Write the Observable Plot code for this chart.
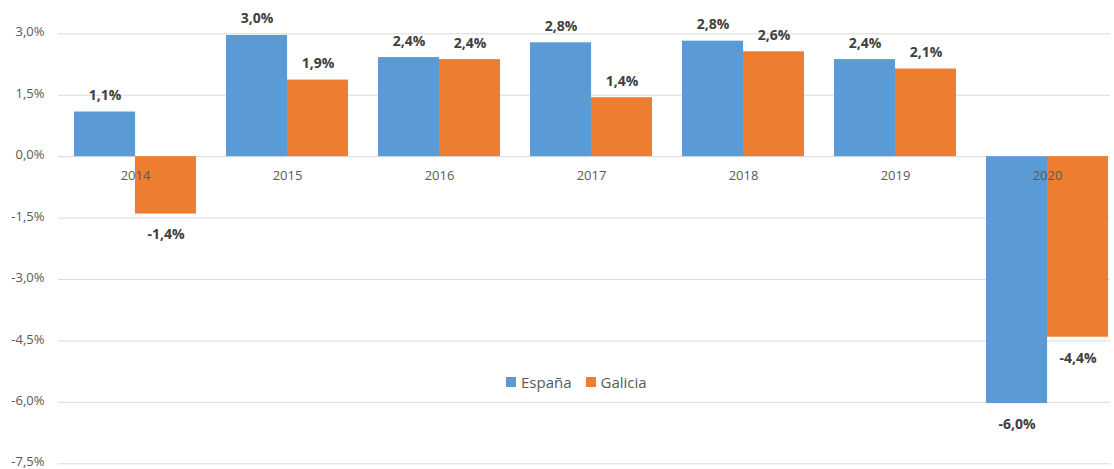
<!DOCTYPE html>
<html><head><meta charset="utf-8">
<script src="https://cdn.jsdelivr.net/npm/d3@7"></script>
<script src="https://cdn.jsdelivr.net/npm/@observablehq/plot@0.6"></script>
<style>
body{margin:0;background:#fff;font-family:"Open Sans",sans-serif;}
#wrap{position:relative;width:1114px;height:469px;}
#legend{position:absolute;top:371px;left:506px;display:flex;gap:14px;font-size:15px;color:#595959;align-items:center;line-height:22px}
.item{display:flex;align-items:center}
.sw{display:inline-block;width:10px;height:10px;margin-right:5px}
</style></head><body><div id="wrap"><div id="legend"></div></div>
<script>
const years = ["2014","2015","2016","2017","2018","2019","2020"];
const espana = [1.09, 2.96, 2.42, 2.78, 2.82, 2.37, -6.03];
const galicia = [-1.40, 1.87, 2.37, 1.44, 2.56, 2.14, -4.41];
const series = ["España","Galicia"];
const colors = ["#5B9BD5","#ED7D31"];
const yTicks = [3, 1.5, 0, -1.5, -3, -4.5, -6, -7.5];

const values = [espana, galicia];
const data = years.flatMap((y,i)=>series.map((s,si)=>({year:y, series:s, value: values[si][i]})));
const fmt = v => v.toFixed(1).replace(".", ",") + "%";

const xRange = [42.8, 1139.4];
const padding = 0.2;
const step = (xRange[1]-xRange[0])/(years.length + padding);
const half = step*(1-padding)/2;

const marks = [
  Plot.ruleY(yTicks, {stroke:"#d9d9d9", strokeWidth:1}),
  Plot.axisY(yTicks, {tickSize:0, tickPadding:14, tickFormat: fmt, fontSize:13, fill:"#595959", label:null, dy:-1.5})
];
series.forEach((s, si) => {
  const d = data.filter(r => r.series === s);
  marks.push(Plot.barY(d, {x:"year", y:"value", fill: colors[si],
    insetLeft: si === 1 ? half : 0, insetRight: si === 0 ? half : 0}));
});
marks.push(Plot.text(years, {x: d => d, y: 0, dy: 19.5, fontSize:13, fill:"#595959"}));
series.forEach((s, si) => {
  const d = data.filter(r => r.series === s);
  const dx = si === 0 ? -half/2 : half/2;
  marks.push(Plot.text(d.filter(r => r.value >= 0), {x:"year", y:"value", text: r => fmt(r.value), dx, dy:-16.5, fontSize:14, fontWeight:"bold", fill:"#404040"}));
  marks.push(Plot.text(d.filter(r => r.value < 0), {x:"year", y:"value", text: r => fmt(r.value), dx, dy:21, fontSize:14, fontWeight:"bold", fill:"#404040"}));
});

const chart = Plot.plot({
  width: 1114,
  height: 469,
  marginLeft: 58,
  marginRight: 4,
  marginTop: 33,
  marginBottom: 6,
  style: {fontFamily: "'Open Sans', sans-serif", background: "#fff"},
  x: {axis: null, domain: years, range: xRange, padding},
  y: {domain: [-7.5, 3], range: [463.3, 33.3], axis: null},
  marks
});
document.getElementById("wrap").prepend(chart);

const legend = document.getElementById("legend");
series.forEach((s, si) => {
  const it = document.createElement("span");
  it.className = "item";
  const sw = document.createElement("span");
  sw.className = "sw";
  sw.style.background = colors[si];
  it.appendChild(sw);
  it.appendChild(document.createTextNode(s));
  legend.appendChild(it);
});
</script></body></html>
